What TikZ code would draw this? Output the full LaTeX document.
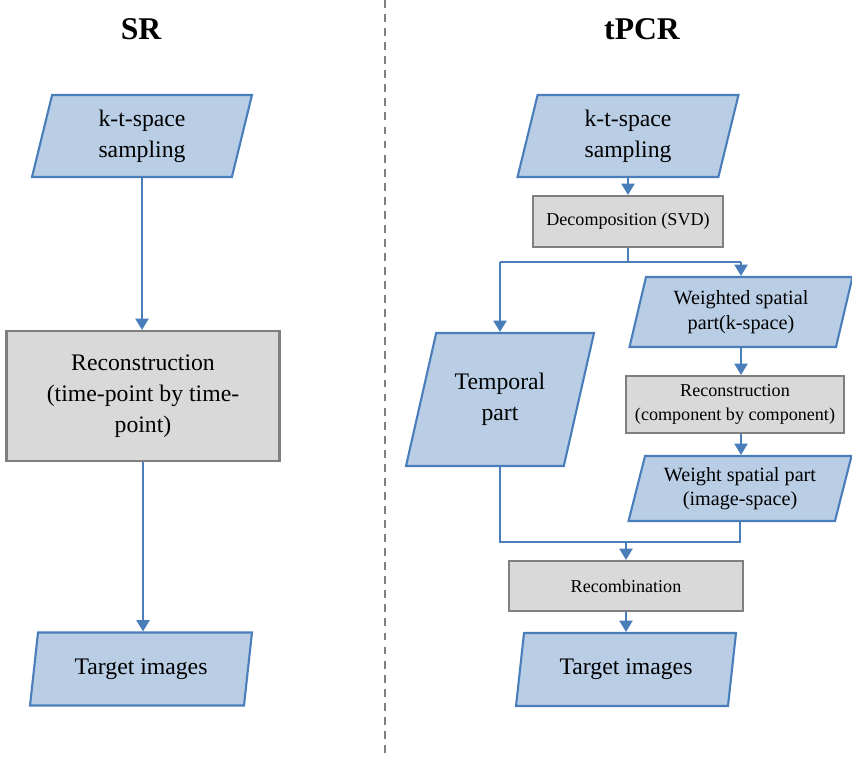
\documentclass[tikz,border=0pt]{standalone}
\usepackage{fontspec}
\setmainfont{Liberation Serif}
\usetikzlibrary{shapes.geometric,arrows.meta}
\definecolor{azulborde}{HTML}{4A7EBB}
\definecolor{azulrelleno}{HTML}{B9CDE5}
\definecolor{grisrelleno}{HTML}{D9D9D9}
\definecolor{grisborde}{HTML}{7F7F7F}

\begin{document}
\begin{tikzpicture}[x=0.02cm, y=-0.02cm,
    datos/.style={trapezium, trapezium left angle=69, trapezium right angle=111,
      trapezium stretches body, draw=azulborde, fill=azulrelleno,
      line width=1.2pt, align=center, inner sep=0pt},
    proceso/.style={rectangle, draw=grisborde, fill=grisrelleno,
      line width=1.2pt, align=center, inner sep=0pt},
    flecha/.style={azulborde, line width=1.2pt, -{Triangle[width=7.5pt,length=6.5pt]}},
    linea/.style={azulborde, line width=1.2pt},
    grande/.style={font=\fontsize{13.5}{17.5}\selectfont},
    media/.style={font=\fontsize{11.5}{14}\selectfont},
    chica/.style={font=\fontsize{10.3}{13.5}\selectfont},
    titulo/.style={font=\fontsize{18}{20}\selectfont\bfseries}]

    \useasboundingbox (0,0) rectangle (852,758);

    % Separador
    \coordinate (sep1) at (385,0);
    \coordinate (sep2) at (385,755);
    \draw[grisborde, line width=1.2pt, dash pattern=on 4.5pt off 3.5pt] (sep1) -- (sep2);

    % Columna SR
    \node[titulo] (srt) at (141,29) {SR};
    \node[datos, grande, minimum width=4.4cm, minimum height=1.64cm] (sA) at (142,136)
        {k-t-space\\sampling};
    \node[proceso, grande, minimum width=5.46cm, minimum height=2.6cm] (sB) at (143,396)
        {Reconstruction\\(time-point by time-\\point)};
    \node[datos, grande, minimum width=4.44cm, minimum height=1.46cm] (sC) at (141,669)
        {Target images};

    \draw[flecha] (sA.south) -- (sA.south |- sB.north);
    \draw[flecha] (sB.south) -- (sB.south |- sC.north);

    % Columna tPCR
    \node[titulo] (pt) at (642,29) {tPCR};
    \node[datos, grande, minimum width=4.42cm, minimum height=1.64cm] (pA) at (628,136)
        {k-t-space\\sampling};
    \node[proceso, chica, minimum width=3.8cm, minimum height=1.02cm] (pB) at (628,221.5)
        {Decomposition (SVD)};
    \node[datos, grande, trapezium left angle=60, trapezium right angle=120,
        minimum width=3.76cm, minimum height=2.66cm] (pT) at (500,399.5)
        {Temporal\\part};
    \node[datos, media, minimum width=4.46cm, minimum height=1.4cm] (pW) at (741,312)
        {Weighted spatial\\part(k-space)};
    \node[proceso, chica, minimum width=4.36cm, minimum height=1.14cm] (pR) at (735,404.5)
        {Reconstruction\\(component by component)};
    \node[datos, media, minimum width=4.46cm, minimum height=1.3cm] (pS) at (740,488.5)
        {Weight spatial part\\(image-space)};
    \node[proceso, chica, minimum width=4.68cm, minimum height=1cm] (pM) at (626,586)
        {Recombination};
    \node[datos, grande, minimum width=4.4cm, minimum height=1.46cm] (pX) at (626,669.5)
        {Target images};

    % Conectores
    \coordinate (div) at (628,262);
    \coordinate (une) at (626,542);
    \draw[flecha] (pA.south) -- (pA.south |- pB.north);
    \draw[linea] (pB.south) -- (div);
    \draw[linea] (div -| pT.north) -- (div -| pW.north);
    \draw[flecha] (div -| pT.north) -- (pT.north);
    \draw[flecha] (div -| pW.north) -- (pW.north);
    \draw[flecha] (pW.south) -- (pW.south |- pR.north);
    \draw[flecha] (pR.south -| pW.south) -- (pS.north -| pW.south);
    \draw[linea] (pT.south) -- (une -| pT.south) -- (une -| pS.south) -- (pS.south);
    \draw[flecha] (une) -- (une |- pM.north);
    \draw[flecha] (pM.south) -- (pM.south |- pX.north);
\end{tikzpicture}
\end{document}
